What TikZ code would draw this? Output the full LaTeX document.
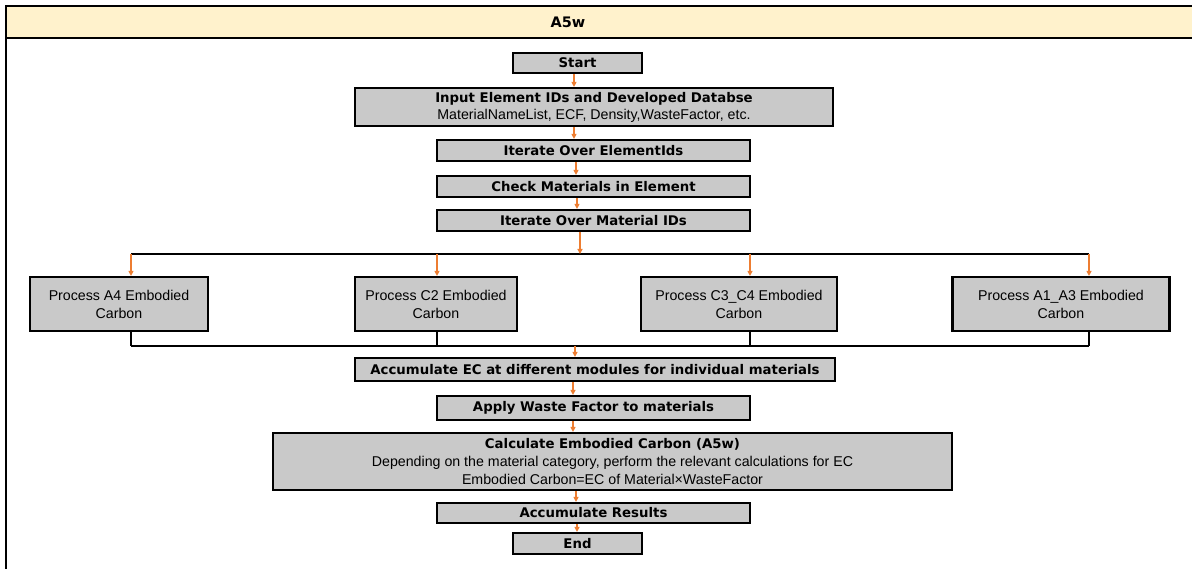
\documentclass[tikz,border=0pt]{standalone}
\usepackage{fontspec}
\setmainfont{Liberation Sans}
\newfontfamily\headface{DejaVu Sans}
\usetikzlibrary{arrows.meta,calc}
\definecolor{headfill}{HTML}{FFF2CC}
\definecolor{boxfill}{HTML}{C9C9C9}
\definecolor{flow}{HTML}{ED7D31}
\newcommand{\plaintext}{\fontsize{14.2}{18}\selectfont\mdseries\rmfamily}
\tikzset{
  x=1pt,y=-1pt,
  stepbox/.style={draw=black,line width=2.2pt,fill=boxfill,inner sep=0pt,align=center,
    font=\fontsize{13.3}{18}\selectfont\headface\bfseries},
  procbox/.style={draw=black,line width=2.2pt,fill=boxfill,inner sep=0pt,align=center,
    minimum height=54pt,font=\fontsize{14.2}{18}\selectfont},
  arr/.style={draw=flow,line width=1.2pt,-{Triangle[length=5pt,width=5pt]}},
  bus/.style={draw=black,line width=1.8pt},
}
\begin{document}
\begin{tikzpicture}
\useasboundingbox (0,0) rectangle (1192,569);
\begin{scope}
\clip (0,0) rectangle (1192,569);
% outer frame and title band
\draw[line width=2.2pt,fill=white] (6,6) rectangle (1220,600);
\draw[line width=2.2pt,fill=headfill] (6,6) rectangle (1220,38);
\node[font=\fontsize{14.5}{16}\selectfont\headface\bfseries] (title) at (568,22) {A5w};
\end{scope}

% main column
\node[stepbox,minimum width=129pt,minimum height=20pt] (start) at (577.5,63) {Start};
\node[stepbox,minimum width=478pt,minimum height=38pt] (input) at (594,107)
  {Input Element IDs and Developed Databse\\[-1pt]{\plaintext MaterialNameList, ECF, Density,WasteFactor, etc.}};
\node[stepbox,minimum width=313pt,minimum height=21pt] (iterel) at (593.5,150.5) {Iterate Over ElementIds};
\node[stepbox,minimum width=313pt,minimum height=21pt] (check) at (593.5,186.5) {Check Materials in Element};
\node[stepbox,minimum width=313pt,minimum height=21pt] (itermat) at (593.5,220.5) {Iterate Over Material IDs};

% parallel module branches
\node[procbox,minimum width=178pt] (pa4) at (119,304) {Process A4 Embodied\\Carbon};
\node[procbox,minimum width=162pt] (pc2) at (436,304) {Process C2 Embodied\\Carbon};
\node[procbox,minimum width=196pt] (pc34) at (739,304) {Process C3\_C4 Embodied\\Carbon};
\node[procbox,minimum width=217pt] (pa13) at (1061,304) {Process A1\_A3 Embodied\\Carbon};

\node[stepbox,minimum width=480pt,minimum height=23pt] (accec) at (595,369.5) {Accumulate EC at different modules for individual materials};
\node[stepbox,minimum width=313pt,minimum height=24pt] (waste) at (593.5,408) {Apply Waste Factor to materials};
\node[stepbox,minimum width=679pt,minimum height=57pt] (calc) at (612.5,461.5)
  {Calculate Embodied Carbon (A5w)\\{\plaintext Depending on the material category, perform the relevant calculations for EC}\\
   {\plaintext Embodied Carbon=EC of Material×WasteFactor}};
\node[stepbox,minimum width=313pt,minimum height=20pt] (accres) at (593.5,513) {Accumulate Results};
\node[stepbox,minimum width=129pt,minimum height=21pt] (end) at (577.5,543.5) {End};

% split and merge buses
\coordinate (splitL) at (131,254);
\coordinate (splitR) at (1089,254);
\coordinate (splitM) at (580,254);
\coordinate (mergeL) at (131,346);
\coordinate (mergeR) at (1089,346);
\coordinate (mergeM) at (575,346);
\draw[bus] (splitL) -- (splitR);
\draw[bus] (mergeL) -- (mergeR);
\foreach \n/\x in {pa4/131,pc2/437,pc34/750,pa13/1089}{
  \draw[arr] (\x,254) -- (\n.north -| \x,0);
  \draw[bus] (\n.south -| \x,0) -- (\x,346);
}

% flow arrows
\draw[arr] (start.south -| 574,0) -- (input.north -| 574,0);
\draw[arr] (input.south -| 574,0) -- (iterel.north -| 574,0);
\draw[arr] (iterel.south -| 576,0) -- (check.north -| 576,0);
\draw[arr] (check.south -| 577,0) -- (itermat.north -| 577,0);
\draw[arr] (itermat.south -| 580,0) -- (splitM);
\draw[arr] (mergeM) -- (accec.north -| 575,0);
\draw[arr] (accec.south -| 573,0) -- (waste.north -| 573,0);
\draw[arr] (waste.south -| 573,0) -- (calc.north -| 573,0);
\draw[arr] (calc.south -| 576,0) -- (accres.north -| 576,0);
\draw[arr] (accres.south -| 577,0) -- (end.north -| 577,0);
\end{tikzpicture}
\end{document}
